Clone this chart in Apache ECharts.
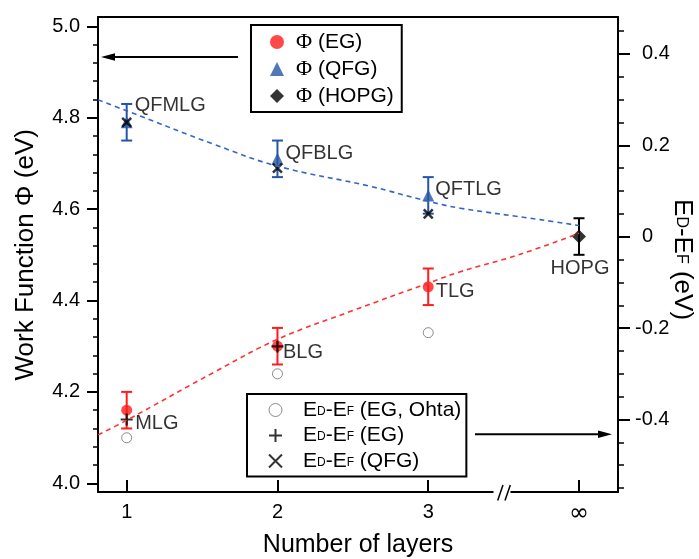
<!DOCTYPE html>
<html><head><meta charset="utf-8">
<script src="https://cdn.jsdelivr.net/npm/echarts@6/dist/echarts.min.js"></script>
<style>html,body{margin:0;padding:0;background:#fff}#c{width:699px;height:559px}</style>
</head><body><div id="c"></div>
<script>
// ---------- data ----------
const xTickLabels = ['1', '2', '3', '\u221E'];
const layers = [1, 2, 3];
const hopgX = [4];
const phiEG = [4.16, 4.30, 4.43];
const phiEGErr = [0.04, 0.04, 0.04];
const phiQFG = [4.79, 4.71, 4.63];
const phiQFGErr = [0.04, 0.04, 0.04];
const phiHOPG = [4.54];
const phiHOPGErr = [0.04];
const egLabels = ['MLG', 'BLG', 'TLG'];
const qfgLabels = ['QFMLG', 'QFBLG', 'QFTLG'];
const hopgLabels = ['HOPG'];
const edOhta = [-0.44, -0.30, -0.21];      // E_D - E_F (EG, Ohta), right axis
const edEGx = [1, 2];
const edEG = [-0.40, -0.24];               // E_D - E_F (EG)
const edQFG = [0.25, 0.15, 0.05];          // E_D - E_F (QFG)
const fitQFGx = [0.81, 1.0, 1.585, 2.0, 2.614, 3.0, 3.213, 3.741, 4.0];
const fitQFGy = [4.839, 4.815, 4.741, 4.694, 4.650, 4.617, 4.602, 4.577, 4.564];
const fitEGx = [0.81, 1.0, 1.585, 2.0, 2.5, 3.0, 3.213, 3.6, 4.0];
const fitEGy = [4.106, 4.138, 4.244, 4.315, 4.378, 4.438, 4.463, 4.500, 4.547];
const leftTicks = {min: 4.0, max: 5.0, interval: 0.2};
const rightTicks = {min: -0.4, max: 0.4, interval: 0.2};

// ---------- styling / layout ----------
const FONT = '"Liberation Sans", Arial, sans-serif';
const RED = '#ff1c1c', BLUE = '#2456a6';
const X0_MIN = 0.8097, X0_MAX = 4.2587;
const Y_MIN = 3.98096, Y_MAX = 5.02035;
const R_MIN = -0.55864, R_MAX = 0.48074;
const egLabelOffsets = [[3, 13], [0, 6], [2, 5]];
const qfgLabelOffsets = [[2, -17], [2, -5], [1, -6]];

function errBar(color) {
  return function (params, api) {
    const x = api.value(0), lo = api.value(1), hi = api.value(2);
    const p1 = api.coord([x, hi]), p2 = api.coord([x, lo]);
    const w = 5.5, st = {stroke: color, lineWidth: 2};
    return {type: 'group', children: [
      {type: 'line', shape: {x1: p1[0], y1: p1[1], x2: p2[0], y2: p2[1]}, style: st},
      {type: 'line', shape: {x1: p1[0] - w, y1: p1[1], x2: p1[0] + w, y2: p1[1]}, style: st},
      {type: 'line', shape: {x1: p2[0] - w, y1: p2[1], x2: p2[0] + w, y2: p2[1]}, style: st}
    ]};
  };
}
const pairs = (xs, ys) => xs.map((x, i) => [x, ys[i]]);
const errData = (xs, ys, es) => xs.map((x, i) => [x, ys[i] - es[i], ys[i] + es[i]]);

const edRich = {
  g: {fontSize: 21, fontFamily: FONT, color: '#000', lineHeight: 21, verticalAlign: 'bottom', padding: [0, 0, 0, 16]},
  n: {fontSize: 21, fontFamily: FONT, color: '#000', lineHeight: 21, verticalAlign: 'bottom'},
  s: {fontSize: 12, fontFamily: FONT, color: '#000', verticalAlign: 'bottom', padding: [0, 0, 3, 0]}
};
const edFmt = name => '{g|E}{s|D}{n|-E}{s|F}{n|' + name.slice(5) + '}';
const phiFmt = name => '{phi|\u03A6}{t|' + name.slice(1) + '}';

const hiddenAxis = gi => ({gridIndex: gi, type: 'value', show: false, min: 0, max: 1,
  axisLine: {show: false, onZero: false}});
const noSplit = {show: false};
const axLine = {show: true, onZero: false, lineStyle: {color: '#000', width: 2}};
const noLine = {show: false, onZero: false};
const gridBase = {containLabel: false, outerBoundsMode: 'none'};

const option = {
  animation: false,
  textStyle: {fontFamily: FONT},
  grid: [
    Object.assign({left: 98, top: 17, width: 520, height: 475}, gridBase),
    Object.assign({left: 98, top: 26.3, width: 520, height: 457}, gridBase),
    Object.assign({left: 98, top: 53.9, width: 520, height: 365.6}, gridBase),
    Object.assign({left: 98, top: 31.05, width: 520, height: 457}, gridBase),
    Object.assign({left: 126.7, top: 17, width: 452.3, height: 475}, gridBase)
  ],
  xAxis: [
    {gridIndex: 0, type: 'value', min: X0_MIN, max: X0_MAX, position: 'bottom',
      axisLine: axLine, axisTick: {show: false}, axisLabel: {show: false}, splitLine: noSplit,
      name: 'Number of layers', nameLocation: 'middle', nameGap: 41,
      nameTextStyle: {fontSize: 25, color: '#000', fontFamily: FONT}},
    {gridIndex: 0, type: 'value', min: X0_MIN, max: X0_MAX, position: 'top',
      axisLine: axLine, axisTick: {show: false}, axisLabel: {show: false}, splitLine: noSplit},
    hiddenAxis(1), hiddenAxis(2), hiddenAxis(3),
    {gridIndex: 4, type: 'value', min: 1, max: 4, interval: 1, position: 'bottom',
      axisLine: noLine, splitLine: noSplit,
      axisTick: {show: true, inside: true, length: 12, lineStyle: {color: '#000', width: 2}},
      axisLabel: {color: '#000', margin: 10,
        formatter: v => (Math.round(v) === 4 ? '{inf|' : '{d|') + xTickLabels[Math.round(v) - 1] + '}',
        rich: {d: {fontSize: 20, fontFamily: FONT, color: '#000'},
               inf: {fontSize: 24, fontFamily: '"DejaVu Sans", sans-serif', color: '#000'}}}}
  ],
  yAxis: [
    {gridIndex: 0, type: 'value', min: Y_MIN, max: Y_MAX, position: 'left',
      axisLine: axLine, axisTick: {show: false}, axisLabel: {show: false}, splitLine: noSplit},
    {gridIndex: 0, type: 'value', min: R_MIN, max: R_MAX, position: 'right',
      axisLine: axLine, axisTick: {show: false}, axisLabel: {show: false}, splitLine: noSplit},
    {gridIndex: 1, type: 'value', min: leftTicks.min, max: leftTicks.max, interval: leftTicks.interval,
      position: 'left', axisLine: noLine, splitLine: noSplit,
      axisTick: {show: true, length: 11, lineStyle: {color: '#000', width: 2}},
      minorTick: {show: true, splitNumber: 5, length: 5, lineStyle: {color: '#000', width: 1.5}},
      axisLabel: {fontSize: 20, color: '#000', margin: 18, fontFamily: FONT, formatter: v => v.toFixed(1)},
      name: 'Work Function \u03A6 (eV)', nameLocation: 'middle', nameRotate: 90, nameGap: 59,
      nameTextStyle: {fontSize: 26, color: '#000', fontFamily: FONT}},
    {gridIndex: 2, type: 'value', min: rightTicks.min, max: rightTicks.max, interval: rightTicks.interval,
      position: 'right', axisLine: noLine, splitLine: noSplit,
      axisTick: {show: true, length: 12, lineStyle: {color: '#000', width: 2}},
      axisLabel: {fontSize: 20, color: '#000', margin: 17, fontFamily: FONT,
        formatter: v => Math.abs(v) < 1e-9 ? '{p|0}' : (v < 0 ? '{m|' + v.toFixed(1) + '}' : '{p|' + v.toFixed(1) + '}'),
        rich: {p: {fontSize: 20, fontFamily: FONT, color: '#000', padding: [0, 0, 0, 7]},
               m: {fontSize: 20, fontFamily: FONT, color: '#000'}}}},
    {gridIndex: 3, type: 'value', min: -0.55, max: 0.45, interval: 0.05,
      position: 'right', axisLine: noLine, splitLine: noSplit,
      axisTick: {show: true, length: 6, lineStyle: {color: '#000', width: 1.5}},
      axisLabel: {show: false},
      name: '{n|E}{s|D}{n|-E}{s|F}{n| (eV)}', nameLocation: 'middle', nameRotate: -90, nameGap: 51,
      nameTextStyle: {color: '#000', rich: {
        n: {fontSize: 26, fontFamily: FONT, color: '#000', lineHeight: 27, verticalAlign: 'bottom'},
        s: {fontSize: 16, fontFamily: FONT, color: '#000', verticalAlign: 'bottom', padding: [0, 0, 4, 0]}}}},
    hiddenAxis(4)
  ],
  legend: [
    {orient: 'vertical', left: 251, top: 25, padding: [6, 8, 5, 19], borderColor: '#000', borderWidth: 2,
      itemWidth: 14, itemHeight: 14, itemGap: 5, selectedMode: false, symbolKeepAspect: true,
      data: ['\u03A6 (EG)', '\u03A6 (QFG)', '\u03A6 (HOPG)'],
      formatter: phiFmt,
      textStyle: {color: '#000', rich: {
        phi: {fontSize: 22, fontFamily: '"Liberation Serif", serif', color: '#000', lineHeight: 20.5, padding: [0, 0, 0, 7]},
        t: {fontSize: 21, fontFamily: FONT, color: '#000', lineHeight: 20.5}}}},
    {orient: 'vertical', left: 247, top: 394, padding: [5.5, 5, 5, 21], borderColor: '#000', borderWidth: 2,
      itemWidth: 13, itemHeight: 13, itemGap: 4.5, selectedMode: false, symbolKeepAspect: true,
      data: [{name: 'ED-EF (EG, Ohta)', itemStyle: {borderWidth: 1}}, 'ED-EF (EG)', 'ED-EF (QFG)'],
      formatter: edFmt,
      textStyle: {color: '#000', rich: edRich}}
  ],
  series: [
    {type: 'line', name: 'fitQFG', xAxisIndex: 0, yAxisIndex: 0, data: pairs(fitQFGx, fitQFGy),
      smooth: 0.4, symbol: 'none', lineStyle: {color: '#3566c4', width: 1.6, type: [5, 4]}, silent: true},
    {type: 'line', name: 'fitEG', xAxisIndex: 0, yAxisIndex: 0, data: pairs(fitEGx, fitEGy),
      smooth: 0.4, symbol: 'none', lineStyle: {color: '#ff3030', width: 1.6, type: [5, 4]}, silent: true},
    {type: 'custom', name: 'errEG', xAxisIndex: 0, yAxisIndex: 0, renderItem: errBar(RED),
      data: errData(layers, phiEG, phiEGErr), encode: {x: 0, y: [1, 2]}, clip: false},
    {type: 'custom', name: 'errQFG', xAxisIndex: 0, yAxisIndex: 0, renderItem: errBar(BLUE),
      data: errData(layers, phiQFG, phiQFGErr), encode: {x: 0, y: [1, 2]}, clip: false},
    {type: 'custom', name: 'errHOPG', xAxisIndex: 0, yAxisIndex: 0, renderItem: errBar('#000'),
      data: errData(hopgX, phiHOPG, phiHOPGErr), encode: {x: 0, y: [1, 2]}, clip: false},
    {type: 'scatter', name: '\u03A6 (EG)', xAxisIndex: 0, yAxisIndex: 0, symbol: 'circle', symbolSize: 11,
      itemStyle: {color: RED},
      data: layers.map((x, i) => ({value: [x, phiEG[i]], label: {offset: egLabelOffsets[i]}})),
      label: {show: true, position: 'right', distance: 0, fontSize: 20, color: '#000', fontFamily: FONT,
        textBorderWidth: 0, formatter: p => egLabels[p.dataIndex]}},
    {type: 'scatter', name: '\u03A6 (QFG)', xAxisIndex: 0, yAxisIndex: 0, symbol: 'triangle', symbolSize: 12,
      itemStyle: {color: BLUE},
      data: layers.map((x, i) => ({value: [x, phiQFG[i]], label: {offset: qfgLabelOffsets[i]}})),
      label: {show: true, position: 'right', distance: 0, fontSize: 20, color: '#000', fontFamily: FONT,
        textBorderWidth: 0, formatter: p => qfgLabels[p.dataIndex]}},
    {type: 'scatter', name: '\u03A6 (HOPG)', xAxisIndex: 0, yAxisIndex: 0, symbol: 'diamond', symbolSize: 14,
      itemStyle: {color: '#000'}, data: pairs(hopgX, phiHOPG),
      label: {show: true, position: 'bottom', distance: 15, offset: [1, 0], fontSize: 20, color: '#000', fontFamily: FONT,
        textBorderWidth: 0, formatter: p => hopgLabels[p.dataIndex]}},
    {type: 'scatter', name: 'ED-EF (EG, Ohta)', xAxisIndex: 0, yAxisIndex: 1, symbol: 'circle', symbolSize: 10,
      itemStyle: {color: '#fff', borderColor: '#6e6e6e', borderWidth: 1}, data: pairs(layers, edOhta)},
    {type: 'scatter', name: 'ED-EF (EG)', xAxisIndex: 0, yAxisIndex: 1,
      symbol: 'path://M6,0L6,12M0,6L12,6', symbolSize: 12,
      itemStyle: {color: '#000', borderColor: '#000', borderWidth: 2.2}, data: pairs(edEGx, edEG)},
    {type: 'scatter', name: 'ED-EF (QFG)', xAxisIndex: 0, yAxisIndex: 1,
      symbol: 'path://M0,0L9,9M9,0L0,9', symbolSize: 9,
      itemStyle: {color: '#000', borderColor: '#000', borderWidth: 2.5}, data: pairs(layers, edQFG)}
  ],
  graphic: [
    {type: 'line', z: 100, shape: {x1: 238, y1: 57, x2: 112, y2: 57}, style: {stroke: '#000', lineWidth: 2}},
    {type: 'polygon', z: 100, shape: {points: [[101, 57], [115, 53.3], [115, 60.7]]}, style: {fill: '#000'}},
    {type: 'line', z: 100, shape: {x1: 475, y1: 434.3, x2: 600, y2: 434.3}, style: {stroke: '#000', lineWidth: 2}},
    {type: 'polygon', z: 100, shape: {points: [[612, 434.3], [598, 430.5], [598, 438.1]]}, style: {fill: '#000'}},
    {type: 'rect', z: 100, shape: {x: 493.5, y: 489, width: 17, height: 6}, style: {fill: '#fff'}},
    {type: 'line', z: 101, shape: {x1: 497.7, y1: 500.5, x2: 503, y2: 485}, style: {stroke: '#000', lineWidth: 1.5}},
    {type: 'line', z: 101, shape: {x1: 505, y1: 500.5, x2: 510.3, y2: 485}, style: {stroke: '#000', lineWidth: 1.5}}
  ]
};
const chart = echarts.init(document.getElementById('c'), null, {renderer: 'canvas'});
chart.setOption(option);
</script>
</body></html>
